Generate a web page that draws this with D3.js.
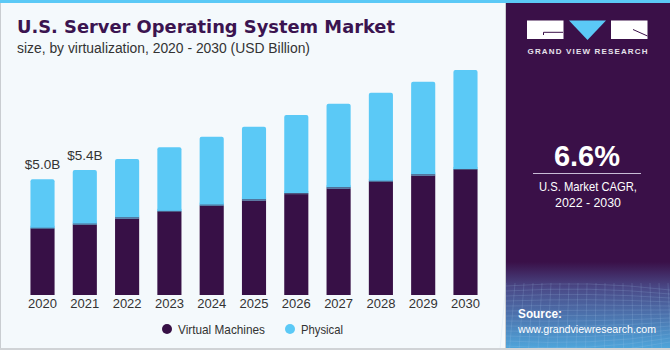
<!DOCTYPE html>
<html>
<head>
<meta charset="utf-8">
<script src="https://cdn.jsdelivr.net/npm/d3@7"></script>
<style>
	body { margin: 0; background: #ffffff; }
	svg { display: block; font-family: "Liberation Sans", Arial, sans-serif; }
</style>
</head>
<body>
<div id="chart"></div>
<script>
// values (USD Billion)
const years = ["2020", "2021", "2022", "2023", "2024", "2025", "2026", "2027", "2028", "2029", "2030"];
const virtual_machines = [2.86, 3.04, 3.31, 3.59, 3.86, 4.09, 4.36, 4.61, 4.89, 5.17, 5.40];
const physical = [2.14, 2.36, 2.56, 2.79, 2.98, 3.18, 3.42, 3.65, 3.85, 4.04, 4.32];
const total_labels = ["$5.0B", "$5.4B"];
const series_names = ["Virtual Machines", "Physical"];
const series_colors = ["#371046", "#5bc9f6"];

const W = 670, H = 350;
const svg = d3.select("#chart").append("svg")
	.attr("width", W)
	.attr("height", H);

// backgrounds
svg.append("rect").attr("width", W).attr("height", H).attr("fill", "#f4f9fc");
svg.append("rect").attr("x", 0.5).attr("y", 0).attr("width", 505).attr("height", 348.5)
	.attr("fill", "#f4f9fc").attr("stroke", "#c9cdd1").attr("stroke-width", 1);

const defs = svg.append("defs");
const grad = defs.append("linearGradient").attr("id", "srcgrad")
	.attr("x1", 0).attr("y1", 0).attr("x2", 0).attr("y2", 1);
grad.append("stop").attr("offset", "0%").attr("stop-color", "#3a1048");
grad.append("stop").attr("offset", "30%").attr("stop-color", "#4a4a88");
grad.append("stop").attr("offset", "100%").attr("stop-color", "#4fa8dd");

svg.append("rect").attr("x", 506).attr("y", 0).attr("width", W - 506).attr("height", H).attr("fill", "#3a1048");
svg.append("rect").attr("x", 506).attr("y", 262).attr("width", W - 506).attr("height", H - 262).attr("fill", "url(#srcgrad)");
// faint grid pattern at the bottom of the side panel
const grid = svg.append("g").attr("stroke", "#a9cdef").attr("stroke-opacity", 0.25).attr("stroke-width", 0.7).attr("fill", "none");
for (let i = 0; i < 14; i++) {
	grid.append("path").attr("d", `M506,${286 + i * 5} Q590,${280 + i * 6} 670,${290 + i * 4}`);
}
for (let i = 0; i < 20; i++) {
	grid.append("path").attr("d", `M${506 + i * 9},283 L${500 + i * 9.5},350`);
}
svg.append("rect").attr("x", 0).attr("y", 0).attr("width", W).attr("height", 3).attr("fill", "#5bc9f6");
svg.append("rect").attr("x", 0).attr("y", 348).attr("width", W).attr("height", 2).attr("fill", "#d0d3d6");

// titles
svg.append("text").attr("x", 17).attr("y", 33)
	.attr("font-size", 17.5).attr("font-weight", "bold").attr("fill", "#3b1450")
	.attr("font-family", "'DejaVu Sans', sans-serif")
	.attr("textLength", 378).attr("lengthAdjust", "spacingAndGlyphs")
	.text("U.S. Server Operating System Market");
svg.append("text").attr("x", 17).attr("y", 53)
	.attr("font-size", 14).attr("fill", "#333333")
	.attr("textLength", 293).attr("lengthAdjust", "spacingAndGlyphs")
	.text("size, by virtualization, 2020 - 2030 (USD Billion)");

// scales
const x = d3.scaleBand()
	.domain(years)
	.range([22, 486])
	.paddingInner(0.43)
	.paddingOuter(0.2);
const y = d3.scaleLinear()
	.domain([0, 10])
	.range([295, 63.5]);

const table = years.map((yr, i) => ({year: yr, vm: virtual_machines[i], ph: physical[i]}));
const stack = d3.stack().keys(["vm", "ph"])(table);

const groups = svg.selectAll(".series")
	.data(stack)
	.enter()
	.append("g")
	.attr("class", "series")
	.attr("fill", (d, i) => series_colors[i]);

groups.selectAll("rect")
	.data(d => d)
	.enter()
	.append("rect")
	.attr("x", d => x(d.data.year))
	.attr("y", d => y(d[1]))
	.attr("width", x.bandwidth())
	.attr("height", d => y(d[0]) - y(d[1]));

// slightly rounded tops on the physical part
svg.selectAll(".series").filter((d, i) => i === 1).selectAll("rect").attr("rx", 2);
// re-cover the bottom corners of the physical part
svg.selectAll(".series").filter((d, i) => i === 1).selectAll(".fix")
	.data(d => d)
	.enter()
	.append("rect")
	.attr("x", d => x(d.data.year))
	.attr("y", d => y(d[0]) - 3)
	.attr("width", x.bandwidth())
	.attr("height", 3);
// thin dark line at the split
svg.append("g").selectAll("line")
	.data(table)
	.enter()
	.append("line")
	.attr("x1", d => x(d.year)).attr("x2", d => x(d.year) + x.bandwidth())
	.attr("y1", d => y(d.vm) - 0.5).attr("y2", d => y(d.vm) - 0.5)
	.attr("stroke", "#4b4f77").attr("stroke-width", 1);

// value labels
svg.append("g").selectAll("text")
	.data(total_labels)
	.enter()
	.append("text")
	.attr("x", (d, i) => x(years[i]) + x.bandwidth() / 2)
	.attr("y", (d, i) => y(virtual_machines[i] + physical[i]) - 10)
	.attr("text-anchor", "middle")
	.attr("font-size", 13.5)
	.attr("fill", "#333333")
	.text(d => d);

// x axis
const x_axis = svg.append("g")
	.attr("transform", "translate(0,295)")
	.call(d3.axisBottom(x).tickSize(0).tickPadding(4));
x_axis.select(".domain").remove();
x_axis.selectAll("text")
	.attr("font-size", 13)
	.attr("font-family", "'Liberation Sans', Arial, sans-serif")
	.attr("fill", "#333333");

// legend
const legend_x = [167, 290];
const legend_w = [87, 42];
const legend = svg.append("g").selectAll("g")
	.data(series_names)
	.enter()
	.append("g")
	.attr("transform", (d, i) => `translate(${legend_x[i]},329)`);
legend.append("circle").attr("r", 5).attr("fill", (d, i) => series_colors[i]);
legend.append("text").attr("x", 11).attr("y", 4.5)
	.attr("font-size", 13).attr("fill", "#333333")
	.attr("textLength", (d, i) => legend_w[i]).attr("lengthAdjust", "spacingAndGlyphs")
	.text(d => d);

// logo
const logo = svg.append("g");
logo.append("rect").attr("x", 527).attr("y", 20.5).attr("width", 36.5).attr("height", 18.5).attr("fill", "#ffffff");
logo.append("path").attr("d", "M543.5,35 V32.3 H563").attr("stroke", "#3a1048").attr("stroke-width", 1).attr("fill", "none");
logo.append("path").attr("d", "M569,20.5 L606,20.5 L587.5,40 Z").attr("fill", "#5bc9f6");
logo.append("rect").attr("x", 611).attr("y", 20.5).attr("width", 36.5).attr("height", 18.5).attr("fill", "#ffffff");
logo.append("path").attr("d", "M633,29.5 L647.5,36").attr("stroke", "#3a1048").attr("stroke-width", 1);
logo.append("text").attr("x", 527.5).attr("y", 53.5)
	.attr("font-size", 8).attr("font-weight", "bold")
	.attr("textLength", 120).attr("lengthAdjust", "spacing")
	.attr("fill", "#e6e2ec")
	.text("GRAND VIEW RESEARCH");

// CAGR box
svg.append("text").attr("x", 587).attr("y", 166)
	.attr("text-anchor", "middle").attr("font-size", 29).attr("font-weight", "bold")
	.attr("fill", "#ffffff").text("6.6%");
svg.append("line").attr("x1", 533).attr("x2", 641).attr("y1", 173.5).attr("y2", 173.5)
	.attr("stroke", "#c8bcd6").attr("stroke-width", 1);
svg.append("text").attr("x", 588).attr("y", 191)
	.attr("text-anchor", "middle").attr("font-size", 13)
	.attr("textLength", 98).attr("lengthAdjust", "spacingAndGlyphs")
	.attr("fill", "#ffffff").text("U.S. Market CAGR,");
svg.append("text").attr("x", 588).attr("y", 207)
	.attr("text-anchor", "middle").attr("font-size", 13)
	.attr("textLength", 66).attr("lengthAdjust", "spacingAndGlyphs")
	.attr("fill", "#ffffff").text("2022 - 2030");

// source
svg.append("text").attr("x", 518).attr("y", 318)
	.attr("font-size", 13).attr("font-weight", "bold")
	.attr("textLength", 44).attr("lengthAdjust", "spacingAndGlyphs")
	.attr("fill", "#ffffff").text("Source:");
svg.append("text").attr("x", 518).attr("y", 333)
	.attr("font-size", 11.2)
	.attr("textLength", 138).attr("lengthAdjust", "spacingAndGlyphs")
	.attr("fill", "#ffffff").text("www.grandviewresearch.com");
</script>
</body>
</html>
